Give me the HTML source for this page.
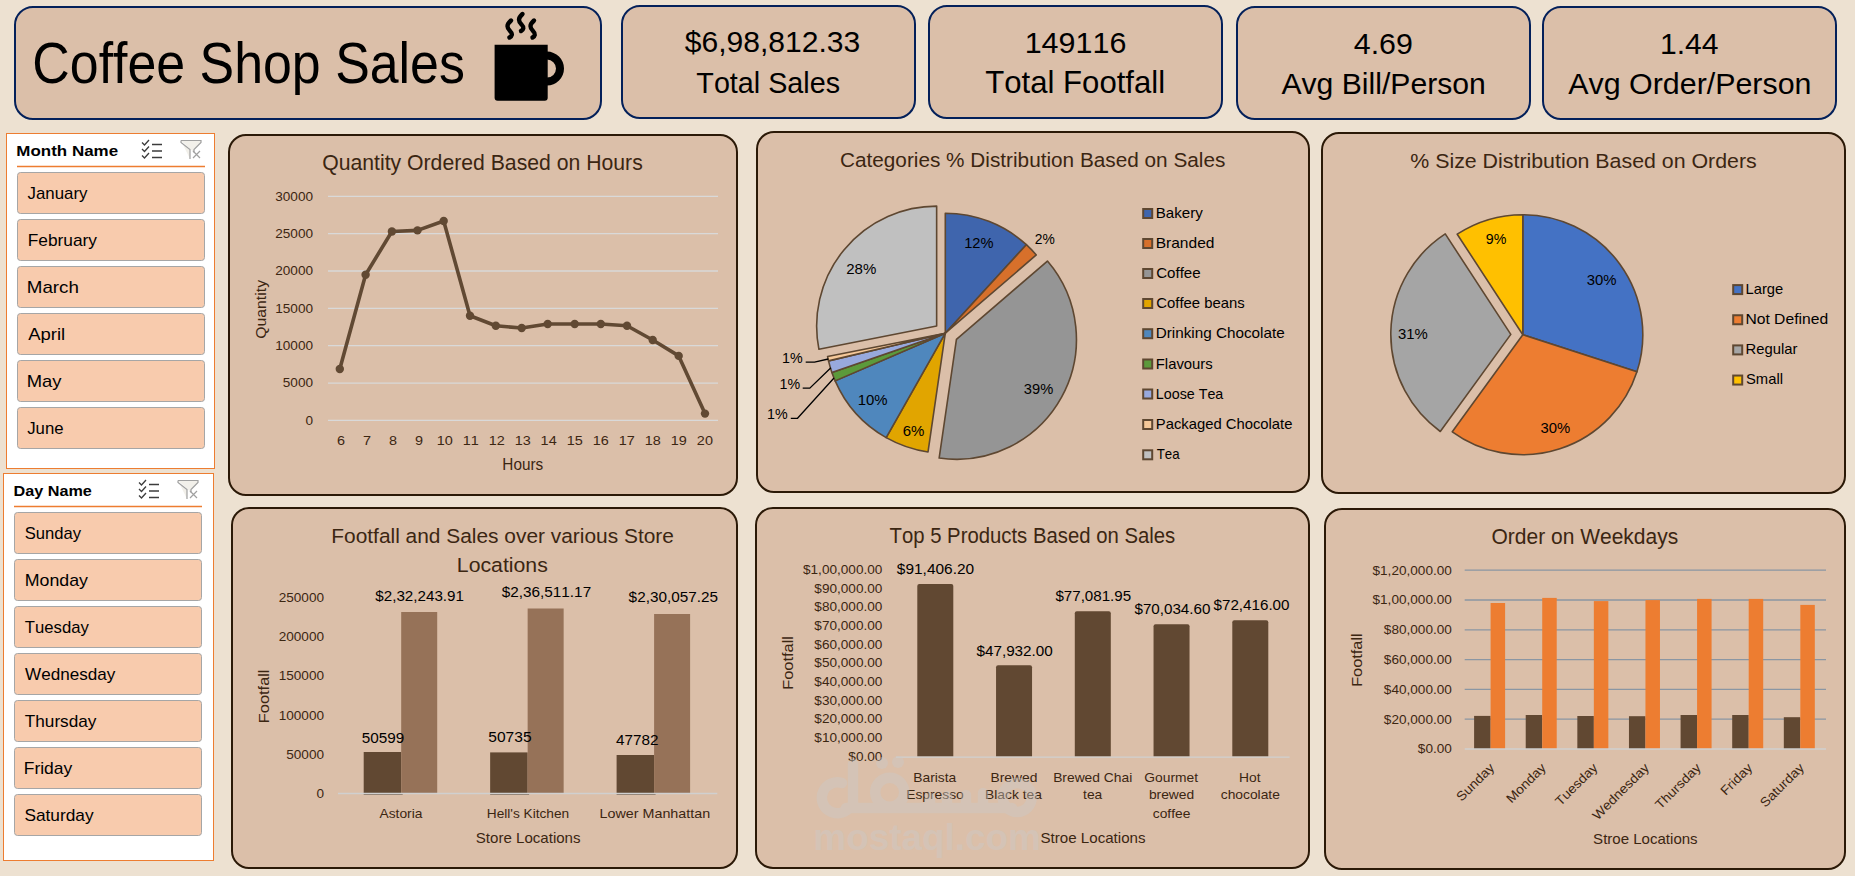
<!DOCTYPE html>
<html><head><meta charset="utf-8"><title>Coffee Shop Sales</title><style>html,body{margin:0;padding:0;background:#EDE1D1;overflow:hidden}</style></head><body>
<svg width="1855" height="876" viewBox="0 0 1855 876" style="display:block;font-family:'Liberation Sans',sans-serif;font-kerning:none">
<rect x="0" y="0" width="1855" height="876" fill="#EDE1D1"/>
<rect x="15.00" y="7.00" width="586.00" height="112.00" rx="18" ry="18" fill="#DBBFA9" stroke="#03205A" stroke-width="2"/>
<rect x="622.00" y="6.00" width="293.00" height="112.00" rx="18" ry="18" fill="#DBBFA9" stroke="#03205A" stroke-width="2"/>
<rect x="929.00" y="6.00" width="293.00" height="112.00" rx="18" ry="18" fill="#DBBFA9" stroke="#03205A" stroke-width="2"/>
<rect x="1237.00" y="7.00" width="293.00" height="112.00" rx="18" ry="18" fill="#DBBFA9" stroke="#03205A" stroke-width="2"/>
<rect x="1543.00" y="7.00" width="293.00" height="112.00" rx="18" ry="18" fill="#DBBFA9" stroke="#03205A" stroke-width="2"/>
<text x="32.37" y="83.00" font-size="57.41" textLength="432.51" lengthAdjust="spacingAndGlyphs" fill="#000">Coffee Shop Sales</text>
<g fill="#000"><path d="M494.6,44.8 H547.7 V97.7 Q547.7,100.7 544.7,100.7 H497.6 Q494.6,100.7 494.6,97.7 Z"/><path d="M547,51.6 A17,17 0 0 1 547,85.6 V77.6 A9,9 0 0 0 547,59.6 Z"/></g>
<g fill="none" stroke="#000" stroke-width="4.4" stroke-linecap="round"><path d="M511,20.5 C506,25 507,28 510,31 C513,34 512,36 509.5,37.5"/><path d="M522.5,14 C517.5,18.5 518.5,21.5 521.5,24.5 C524.5,27.5 523.5,29.5 521,31"/><path d="M534,20.5 C529,25 530,28 533,31 C536,34 535,36 532.5,37.5"/></g>
<text x="684.68" y="52.30" font-size="28.94" textLength="175.65" lengthAdjust="spacingAndGlyphs" fill="#000">$6,98,812.33</text>
<text x="696.35" y="92.80" font-size="30.23" textLength="143.68" lengthAdjust="spacingAndGlyphs" fill="#000">Total Sales</text>
<text x="1024.68" y="52.90" font-size="29.37" textLength="101.66" lengthAdjust="spacingAndGlyphs" fill="#000">149116</text>
<text x="985.30" y="92.80" font-size="30.52" textLength="179.78" lengthAdjust="spacingAndGlyphs" fill="#000">Total Footfall</text>
<text x="1353.80" y="53.80" font-size="29.51" textLength="59.03" lengthAdjust="spacingAndGlyphs" fill="#000">4.69</text>
<text x="1281.44" y="93.50" font-size="29.80" textLength="204.32" lengthAdjust="spacingAndGlyphs" fill="#000">Avg Bill/Person</text>
<text x="1660.01" y="53.60" font-size="29.08" textLength="58.57" lengthAdjust="spacingAndGlyphs" fill="#000">1.44</text>
<text x="1568.34" y="93.60" font-size="29.80" textLength="243.13" lengthAdjust="spacingAndGlyphs" fill="#000">Avg Order/Person</text>
<rect x="6.5" y="133.5" width="208" height="335" fill="#FFFFFF" stroke="#ED7D31" stroke-width="1"/>
<text x="16.37" y="156.00" font-size="15.55" textLength="101.71" lengthAdjust="spacingAndGlyphs" fill="#000" font-weight="bold">Month Name</text>
<line x1="17" y1="166.5" x2="205" y2="166.5" stroke="#ED7D31" stroke-width="1.3"/>
<g fill="none" stroke="#3C3C3C" stroke-width="1.3"><path d="M142,142.5 l2.5,2.5 l4.5,-5"/><path d="M142,149 l2.5,2.5 l4.5,-5"/><path d="M142,155.5 l2.5,2.5 l4.5,-5"/><path d="M152,144.5 h10 M152,151 h10 M152,157.5 h10"/></g>
<g fill="#F2F0EA" stroke="#A0A0A0" stroke-width="1.2"><path d="M181,140.5 h20 v2 l-7,7 v3 M190,159 v-9.5 l-9,-7 v-2"/></g><path d="M193,151 l7,7 M200,151 l-7,7" stroke="#A0A0A0" stroke-width="1.2"/>
<rect x="17.5" y="172.5" width="187" height="41" rx="3" ry="3" fill="#F8CBAD" stroke="#A6A6A6" stroke-width="1"/>
<text x="27.54" y="199.20" font-size="15.99" textLength="59.90" lengthAdjust="spacingAndGlyphs" fill="#000">January</text>
<rect x="17.5" y="219.5" width="187" height="41" rx="3" ry="3" fill="#F8CBAD" stroke="#A6A6A6" stroke-width="1"/>
<text x="27.78" y="246.20" font-size="15.99" textLength="69.25" lengthAdjust="spacingAndGlyphs" fill="#000">February</text>
<rect x="17.5" y="266.5" width="187" height="41" rx="3" ry="3" fill="#F8CBAD" stroke="#A6A6A6" stroke-width="1"/>
<text x="26.76" y="293.20" font-size="15.99" textLength="52.16" lengthAdjust="spacingAndGlyphs" fill="#000">March</text>
<rect x="17.5" y="313.5" width="187" height="41" rx="3" ry="3" fill="#F8CBAD" stroke="#A6A6A6" stroke-width="1"/>
<text x="28.26" y="340.20" font-size="15.99" textLength="36.97" lengthAdjust="spacingAndGlyphs" fill="#000">April</text>
<rect x="17.5" y="360.5" width="187" height="41" rx="3" ry="3" fill="#F8CBAD" stroke="#A6A6A6" stroke-width="1"/>
<text x="26.79" y="387.20" font-size="15.99" textLength="34.74" lengthAdjust="spacingAndGlyphs" fill="#000">May</text>
<rect x="17.5" y="407.5" width="187" height="41" rx="3" ry="3" fill="#F8CBAD" stroke="#A6A6A6" stroke-width="1"/>
<text x="27.24" y="434.20" font-size="15.99" textLength="36.31" lengthAdjust="spacingAndGlyphs" fill="#000">June</text>
<rect x="3.5" y="473.5" width="210" height="387" fill="#FFFFFF" stroke="#ED7D31" stroke-width="1"/>
<text x="13.52" y="496.00" font-size="15.55" textLength="78.34" lengthAdjust="spacingAndGlyphs" fill="#000" font-weight="bold">Day Name</text>
<line x1="14" y1="506.5" x2="202" y2="506.5" stroke="#ED7D31" stroke-width="1.3"/>
<g fill="none" stroke="#3C3C3C" stroke-width="1.3"><path d="M139,482.5 l2.5,2.5 l4.5,-5"/><path d="M139,489 l2.5,2.5 l4.5,-5"/><path d="M139,495.5 l2.5,2.5 l4.5,-5"/><path d="M149,484.5 h10 M149,491 h10 M149,497.5 h10"/></g>
<g fill="#F2F0EA" stroke="#A0A0A0" stroke-width="1.2"><path d="M178,480.5 h20 v2 l-7,7 v3 M187,499 v-9.5 l-9,-7 v-2"/></g><path d="M190,491 l7,7 M197,491 l-7,7" stroke="#A0A0A0" stroke-width="1.2"/>
<rect x="14.5" y="512.5" width="187" height="41" rx="3" ry="3" fill="#F8CBAD" stroke="#A6A6A6" stroke-width="1"/>
<text x="24.75" y="539.20" font-size="15.99" textLength="56.29" lengthAdjust="spacingAndGlyphs" fill="#000">Sunday</text>
<rect x="14.5" y="559.5" width="187" height="41" rx="3" ry="3" fill="#F8CBAD" stroke="#A6A6A6" stroke-width="1"/>
<text x="24.74" y="586.20" font-size="15.99" textLength="63.19" lengthAdjust="spacingAndGlyphs" fill="#000">Monday</text>
<rect x="14.5" y="606.5" width="187" height="41" rx="3" ry="3" fill="#F8CBAD" stroke="#A6A6A6" stroke-width="1"/>
<text x="24.83" y="633.20" font-size="15.99" textLength="64.01" lengthAdjust="spacingAndGlyphs" fill="#000">Tuesday</text>
<rect x="14.5" y="653.5" width="187" height="41" rx="3" ry="3" fill="#F8CBAD" stroke="#A6A6A6" stroke-width="1"/>
<text x="25.12" y="680.20" font-size="15.99" textLength="90.31" lengthAdjust="spacingAndGlyphs" fill="#000">Wednesday</text>
<rect x="14.5" y="700.5" width="187" height="41" rx="3" ry="3" fill="#F8CBAD" stroke="#A6A6A6" stroke-width="1"/>
<text x="24.81" y="727.20" font-size="15.99" textLength="71.62" lengthAdjust="spacingAndGlyphs" fill="#000">Thursday</text>
<rect x="14.5" y="747.5" width="187" height="41" rx="3" ry="3" fill="#F8CBAD" stroke="#A6A6A6" stroke-width="1"/>
<text x="23.77" y="774.20" font-size="15.99" textLength="48.47" lengthAdjust="spacingAndGlyphs" fill="#000">Friday</text>
<rect x="14.5" y="794.5" width="187" height="41" rx="3" ry="3" fill="#F8CBAD" stroke="#A6A6A6" stroke-width="1"/>
<text x="24.42" y="821.20" font-size="15.99" textLength="69.12" lengthAdjust="spacingAndGlyphs" fill="#000">Saturday</text>
<rect x="229.00" y="135.00" width="508.00" height="360.00" rx="17" ry="17" fill="#DBBFA9" stroke="#2B1907" stroke-width="2"/>
<rect x="757.00" y="132.00" width="552.00" height="360.00" rx="17" ry="17" fill="#DBBFA9" stroke="#2B1907" stroke-width="2"/>
<rect x="1322.00" y="133.00" width="523.00" height="360.00" rx="17" ry="17" fill="#DBBFA9" stroke="#2B1907" stroke-width="2"/>
<rect x="232.00" y="508.00" width="505.00" height="360.00" rx="17" ry="17" fill="#DBBFA9" stroke="#2B1907" stroke-width="2"/>
<rect x="756.00" y="508.00" width="553.00" height="360.00" rx="17" ry="17" fill="#DBBFA9" stroke="#2B1907" stroke-width="2"/>
<rect x="1325.00" y="509.00" width="520.00" height="360.00" rx="17" ry="17" fill="#DBBFA9" stroke="#2B1907" stroke-width="2"/>
<text x="322.20" y="170.20" font-size="21.80" textLength="320.57" lengthAdjust="spacingAndGlyphs" fill="#3B2612">Quantity Ordered Based on Hours</text>
<line x1="328" y1="196.30" x2="718" y2="196.30" stroke="#D9D9D9" stroke-width="1.3"/>
<line x1="328" y1="233.65" x2="718" y2="233.65" stroke="#D9D9D9" stroke-width="1.3"/>
<line x1="328" y1="271.00" x2="718" y2="271.00" stroke="#D9D9D9" stroke-width="1.3"/>
<line x1="328" y1="308.35" x2="718" y2="308.35" stroke="#D9D9D9" stroke-width="1.3"/>
<line x1="328" y1="345.70" x2="718" y2="345.70" stroke="#D9D9D9" stroke-width="1.3"/>
<line x1="328" y1="383.05" x2="718" y2="383.05" stroke="#D9D9D9" stroke-width="1.3"/>
<line x1="328" y1="420.40" x2="718" y2="420.40" stroke="#D9D9D9" stroke-width="1.3"/>
<text x="275.25" y="200.60" font-size="12.46" textLength="37.78" lengthAdjust="spacingAndGlyphs" fill="#3B2612">30000</text>
<text x="275.25" y="237.95" font-size="12.46" textLength="37.78" lengthAdjust="spacingAndGlyphs" fill="#3B2612">25000</text>
<text x="275.25" y="275.30" font-size="12.46" textLength="37.78" lengthAdjust="spacingAndGlyphs" fill="#3B2612">20000</text>
<text x="275.25" y="312.65" font-size="12.46" textLength="37.78" lengthAdjust="spacingAndGlyphs" fill="#3B2612">15000</text>
<text x="275.25" y="350.00" font-size="12.46" textLength="37.78" lengthAdjust="spacingAndGlyphs" fill="#3B2612">10000</text>
<text x="282.81" y="387.35" font-size="12.46" textLength="30.22" lengthAdjust="spacingAndGlyphs" fill="#3B2612">5000</text>
<text x="305.47" y="424.70" font-size="12.46" textLength="7.56" lengthAdjust="spacingAndGlyphs" fill="#3B2612">0</text>
<polyline points="339.8,369 365.6,274.7 391.9,231.5 417.5,230.4 443.7,221 470,315.8 495.8,325.8 521.7,328 547.7,324 574.7,324 600.8,324 627,325.7 652.7,340 678.7,355.9 705,413.6" fill="none" stroke="#614933" stroke-width="3.6" stroke-linejoin="round"/>
<circle cx="339.8" cy="369" r="4.2" fill="#614933"/>
<circle cx="365.6" cy="274.7" r="4.2" fill="#614933"/>
<circle cx="391.9" cy="231.5" r="4.2" fill="#614933"/>
<circle cx="417.5" cy="230.4" r="4.2" fill="#614933"/>
<circle cx="443.7" cy="221" r="4.2" fill="#614933"/>
<circle cx="470" cy="315.8" r="4.2" fill="#614933"/>
<circle cx="495.8" cy="325.8" r="4.2" fill="#614933"/>
<circle cx="521.7" cy="328" r="4.2" fill="#614933"/>
<circle cx="547.7" cy="324" r="4.2" fill="#614933"/>
<circle cx="574.7" cy="324" r="4.2" fill="#614933"/>
<circle cx="600.8" cy="324" r="4.2" fill="#614933"/>
<circle cx="627" cy="325.7" r="4.2" fill="#614933"/>
<circle cx="652.7" cy="340" r="4.2" fill="#614933"/>
<circle cx="678.7" cy="355.9" r="4.2" fill="#614933"/>
<circle cx="705" cy="413.6" r="4.2" fill="#614933"/>
<text x="336.93" y="445.10" font-size="12.89" textLength="8.03" lengthAdjust="spacingAndGlyphs" fill="#3B2612">6</text>
<text x="362.98" y="445.10" font-size="12.89" textLength="8.03" lengthAdjust="spacingAndGlyphs" fill="#3B2612">7</text>
<text x="388.98" y="445.10" font-size="12.89" textLength="8.03" lengthAdjust="spacingAndGlyphs" fill="#3B2612">8</text>
<text x="414.99" y="445.10" font-size="12.89" textLength="8.03" lengthAdjust="spacingAndGlyphs" fill="#3B2612">9</text>
<text x="436.70" y="445.10" font-size="12.89" textLength="16.06" lengthAdjust="spacingAndGlyphs" fill="#3B2612">10</text>
<text x="462.77" y="445.10" font-size="12.89" textLength="16.06" lengthAdjust="spacingAndGlyphs" fill="#3B2612">11</text>
<text x="488.78" y="445.10" font-size="12.89" textLength="16.06" lengthAdjust="spacingAndGlyphs" fill="#3B2612">12</text>
<text x="514.74" y="445.10" font-size="12.89" textLength="16.06" lengthAdjust="spacingAndGlyphs" fill="#3B2612">13</text>
<text x="540.63" y="445.10" font-size="12.89" textLength="16.06" lengthAdjust="spacingAndGlyphs" fill="#3B2612">14</text>
<text x="566.72" y="445.10" font-size="12.89" textLength="16.06" lengthAdjust="spacingAndGlyphs" fill="#3B2612">15</text>
<text x="592.74" y="445.10" font-size="12.89" textLength="16.06" lengthAdjust="spacingAndGlyphs" fill="#3B2612">16</text>
<text x="618.78" y="445.10" font-size="12.89" textLength="16.06" lengthAdjust="spacingAndGlyphs" fill="#3B2612">17</text>
<text x="644.73" y="445.10" font-size="12.89" textLength="16.06" lengthAdjust="spacingAndGlyphs" fill="#3B2612">18</text>
<text x="670.76" y="445.10" font-size="12.89" textLength="16.06" lengthAdjust="spacingAndGlyphs" fill="#3B2612">19</text>
<text x="696.89" y="445.10" font-size="12.89" textLength="16.06" lengthAdjust="spacingAndGlyphs" fill="#3B2612">20</text>
<text x="502.34" y="469.90" font-size="15.99" textLength="40.91" lengthAdjust="spacingAndGlyphs" fill="#3B2612">Hours</text>
<g transform="translate(261.00,309.00) rotate(-90)"><text x="-29.75" y="5.25" font-size="15.26" textLength="58.78" lengthAdjust="spacingAndGlyphs" fill="#3B2612">Quantity</text></g>
<text x="839.95" y="166.50" font-size="21.08" textLength="385.40" lengthAdjust="spacingAndGlyphs" fill="#3B2612">Categories % Distribution Based on Sales</text>
<path d="M945.30,333.20 L945.30,213.20 A120,120 0 0 1 1026.34,244.70 Z" fill="#3F65AD" stroke="#5E4731" stroke-width="1.6" stroke-linejoin="round"/>
<path d="M945.30,333.20 L1026.34,244.70 A120,120 0 0 1 1036.30,254.98 Z" fill="#D7702B" stroke="#5E4731" stroke-width="1.6" stroke-linejoin="round"/>
<path d="M956.43,339.32 L1047.43,261.10 A120,120 0 0 1 939.15,458.07 Z" fill="#959595" stroke="#5E4731" stroke-width="1.6" stroke-linejoin="round"/>
<path d="M945.30,333.20 L928.02,451.95 A120,120 0 0 1 886.17,437.62 Z" fill="#E1A500" stroke="#5E4731" stroke-width="1.6" stroke-linejoin="round"/>
<path d="M945.30,333.20 L886.17,437.62 A120,120 0 0 1 835.17,380.86 Z" fill="#4F87BD" stroke="#5E4731" stroke-width="1.6" stroke-linejoin="round"/>
<path d="M945.30,333.20 L835.17,380.86 A120,120 0 0 1 831.89,372.43 Z" fill="#5C9A3B" stroke="#5E4731" stroke-width="1.6" stroke-linejoin="round"/>
<path d="M945.30,333.20 L831.89,372.43 A120,120 0 0 1 828.53,360.85 Z" fill="#98A9DD" stroke="#5E4731" stroke-width="1.6" stroke-linejoin="round"/>
<path d="M945.30,333.20 L828.53,360.85 A120,120 0 0 1 827.57,356.43 Z" fill="#F5C899" stroke="#5E4731" stroke-width="1.6" stroke-linejoin="round"/>
<path d="M936.65,326.09 L818.92,349.31 A120,120 0 0 1 936.65,206.09 Z" fill="#C0C0C0" stroke="#5E4731" stroke-width="1.6" stroke-linejoin="round"/>
<text x="964.18" y="247.80" font-size="15.41" textLength="29.34" lengthAdjust="spacingAndGlyphs" fill="#000000">12%</text>
<text x="1034.70" y="244.30" font-size="15.41" textLength="19.99" lengthAdjust="spacingAndGlyphs" fill="#000000">2%</text>
<text x="846.24" y="273.50" font-size="15.41" textLength="30.09" lengthAdjust="spacingAndGlyphs" fill="#000000">28%</text>
<text x="1023.84" y="394.40" font-size="15.41" textLength="29.38" lengthAdjust="spacingAndGlyphs" fill="#000000">39%</text>
<text x="857.76" y="404.50" font-size="15.41" textLength="29.87" lengthAdjust="spacingAndGlyphs" fill="#000000">10%</text>
<text x="902.74" y="436.20" font-size="15.41" textLength="21.70" lengthAdjust="spacingAndGlyphs" fill="#000000">6%</text>
<text x="782.01" y="362.60" font-size="14.97" textLength="20.59" lengthAdjust="spacingAndGlyphs" fill="#000000">1%</text>
<text x="779.51" y="388.50" font-size="14.97" textLength="20.59" lengthAdjust="spacingAndGlyphs" fill="#000000">1%</text>
<text x="767.11" y="418.60" font-size="14.97" textLength="20.59" lengthAdjust="spacingAndGlyphs" fill="#000000">1%</text>
<g fill="none" stroke="#000" stroke-width="1.3"><polyline points="805.7,362.1 814.5,362.1 828.3,359"/><polyline points="802.7,388.1 809.8,388.1 830.9,367.7"/><polyline points="790.8,418.3 797.5,418.3 834,378"/></g>
<rect x="1143.2" y="209.00" width="9" height="9" fill="#3F65AD" stroke="#5E4731" stroke-width="2"/>
<text x="1155.76" y="218.00" font-size="15.12" textLength="46.97" lengthAdjust="spacingAndGlyphs" fill="#000">Bakery</text>
<rect x="1143.2" y="239.00" width="9" height="9" fill="#D7702B" stroke="#5E4731" stroke-width="2"/>
<text x="1155.73" y="248.00" font-size="15.12" textLength="58.67" lengthAdjust="spacingAndGlyphs" fill="#000">Branded</text>
<rect x="1143.2" y="269.00" width="9" height="9" fill="#959595" stroke="#5E4731" stroke-width="2"/>
<text x="1156.23" y="278.00" font-size="15.12" textLength="44.44" lengthAdjust="spacingAndGlyphs" fill="#000">Coffee</text>
<rect x="1143.2" y="299.00" width="9" height="9" fill="#E1A500" stroke="#5E4731" stroke-width="2"/>
<text x="1156.24" y="308.00" font-size="15.12" textLength="88.49" lengthAdjust="spacingAndGlyphs" fill="#000">Coffee beans</text>
<rect x="1143.2" y="329.20" width="9" height="9" fill="#4F87BD" stroke="#5E4731" stroke-width="2"/>
<text x="1155.75" y="338.20" font-size="15.12" textLength="128.93" lengthAdjust="spacingAndGlyphs" fill="#000">Drinking Chocolate</text>
<rect x="1143.2" y="359.50" width="9" height="9" fill="#5C9A3B" stroke="#5E4731" stroke-width="2"/>
<text x="1155.78" y="368.50" font-size="15.12" textLength="56.96" lengthAdjust="spacingAndGlyphs" fill="#000">Flavours</text>
<rect x="1143.2" y="389.50" width="9" height="9" fill="#98A9DD" stroke="#5E4731" stroke-width="2"/>
<text x="1155.83" y="398.50" font-size="15.12" textLength="67.47" lengthAdjust="spacingAndGlyphs" fill="#000">Loose Tea</text>
<rect x="1143.2" y="420.00" width="9" height="9" fill="#F5C899" stroke="#5E4731" stroke-width="2"/>
<text x="1155.79" y="429.00" font-size="15.12" textLength="136.67" lengthAdjust="spacingAndGlyphs" fill="#000">Packaged Chocolate</text>
<rect x="1143.2" y="450.30" width="9" height="9" fill="#C0C0C0" stroke="#5E4731" stroke-width="2"/>
<text x="1156.70" y="459.30" font-size="15.12" textLength="22.90" lengthAdjust="spacingAndGlyphs" fill="#000">Tea</text>
<text x="1410.24" y="167.50" font-size="21.08" textLength="346.53" lengthAdjust="spacingAndGlyphs" fill="#3B2612">% Size Distribution Based on Orders</text>
<path d="M1522.80,334.70 L1522.80,214.70 A120,120 0 0 1 1636.93,371.78 Z" fill="#4472C4" stroke="#5E4731" stroke-width="1.6" stroke-linejoin="round"/>
<path d="M1522.80,334.70 L1636.93,371.78 A120,120 0 0 1 1452.27,431.78 Z" fill="#ED7D31" stroke="#5E4731" stroke-width="1.6" stroke-linejoin="round"/>
<path d="M1510.80,334.40 L1440.27,431.48 A120,120 0 0 1 1445.24,233.90 Z" fill="#A5A5A5" stroke="#5E4731" stroke-width="1.6" stroke-linejoin="round"/>
<path d="M1522.80,334.70 L1457.23,234.20 A120,120 0 0 1 1522.80,214.70 Z" fill="#FFC000" stroke="#5E4731" stroke-width="1.6" stroke-linejoin="round"/>
<text x="1485.73" y="244.10" font-size="15.41" textLength="20.57" lengthAdjust="spacingAndGlyphs" fill="#000000">9%</text>
<text x="1586.63" y="285.40" font-size="15.41" textLength="29.80" lengthAdjust="spacingAndGlyphs" fill="#000000">30%</text>
<text x="1397.93" y="339.40" font-size="15.41" textLength="29.80" lengthAdjust="spacingAndGlyphs" fill="#000000">31%</text>
<text x="1540.43" y="433.40" font-size="15.41" textLength="29.69" lengthAdjust="spacingAndGlyphs" fill="#000000">30%</text>
<rect x="1733.2" y="285.10" width="9" height="9" fill="#4472C4" stroke="#5E4731" stroke-width="2"/>
<text x="1745.49" y="293.90" font-size="14.97" textLength="37.77" lengthAdjust="spacingAndGlyphs" fill="#000">Large</text>
<rect x="1733.2" y="315.25" width="9" height="9" fill="#ED7D31" stroke="#5E4731" stroke-width="2"/>
<text x="1745.42" y="324.05" font-size="14.97" textLength="82.69" lengthAdjust="spacingAndGlyphs" fill="#000">Not Defined</text>
<rect x="1733.2" y="345.40" width="9" height="9" fill="#A5A5A5" stroke="#5E4731" stroke-width="2"/>
<text x="1745.49" y="354.20" font-size="14.97" textLength="51.86" lengthAdjust="spacingAndGlyphs" fill="#000">Regular</text>
<rect x="1733.2" y="375.55" width="9" height="9" fill="#FFC000" stroke="#5E4731" stroke-width="2"/>
<text x="1746.03" y="384.35" font-size="14.97" textLength="36.96" lengthAdjust="spacingAndGlyphs" fill="#000">Small</text>
<text x="331.29" y="542.50" font-size="21.08" textLength="342.64" lengthAdjust="spacingAndGlyphs" fill="#3B2612">Footfall and Sales over various Store</text>
<text x="456.86" y="571.80" font-size="21.08" textLength="90.91" lengthAdjust="spacingAndGlyphs" fill="#3B2612">Locations</text>
<text x="278.70" y="602.20" font-size="12.46" textLength="45.34" lengthAdjust="spacingAndGlyphs" fill="#3B2612">250000</text>
<text x="278.70" y="641.32" font-size="12.46" textLength="45.34" lengthAdjust="spacingAndGlyphs" fill="#3B2612">200000</text>
<text x="278.70" y="680.44" font-size="12.46" textLength="45.34" lengthAdjust="spacingAndGlyphs" fill="#3B2612">150000</text>
<text x="278.70" y="719.56" font-size="12.46" textLength="45.34" lengthAdjust="spacingAndGlyphs" fill="#3B2612">100000</text>
<text x="286.25" y="758.68" font-size="12.46" textLength="37.78" lengthAdjust="spacingAndGlyphs" fill="#3B2612">50000</text>
<text x="316.47" y="797.80" font-size="12.46" textLength="7.56" lengthAdjust="spacingAndGlyphs" fill="#3B2612">0</text>
<rect x="363.70" y="752.00" width="37.5" height="41.50" fill="#614832"/>
<rect x="401.20" y="612.00" width="36" height="181.50" fill="#967258"/>
<line x1="363.70" y1="794.3" x2="402.70" y2="794.3" stroke="#6B5A4A" stroke-width="1"/>
<text x="361.79" y="742.80" font-size="14.76" textLength="42.54" lengthAdjust="spacingAndGlyphs" fill="#000000">50599</text>
<text x="375.34" y="600.50" font-size="15.19" textLength="88.60" lengthAdjust="spacingAndGlyphs" fill="#000000">$2,32,243.91</text>
<text x="379.47" y="818.40" font-size="12.79" textLength="42.93" lengthAdjust="spacingAndGlyphs" fill="#3B2612">Astoria</text>
<rect x="490.15" y="752.40" width="37.5" height="41.10" fill="#614832"/>
<rect x="527.65" y="608.50" width="36" height="185.00" fill="#967258"/>
<line x1="490.15" y1="794.3" x2="529.15" y2="794.3" stroke="#6B5A4A" stroke-width="1"/>
<text x="488.28" y="742.00" font-size="14.76" textLength="43.28" lengthAdjust="spacingAndGlyphs" fill="#000000">50735</text>
<text x="501.74" y="597.10" font-size="15.19" textLength="89.43" lengthAdjust="spacingAndGlyphs" fill="#000000">$2,36,511.17</text>
<text x="486.78" y="818.40" font-size="12.79" textLength="82.41" lengthAdjust="spacingAndGlyphs" fill="#3B2612">Hell&#39;s Kitchen</text>
<rect x="616.60" y="755.00" width="37.5" height="38.50" fill="#614832"/>
<rect x="654.10" y="614.00" width="36" height="179.50" fill="#967258"/>
<line x1="616.60" y1="794.3" x2="655.60" y2="794.3" stroke="#6B5A4A" stroke-width="1"/>
<text x="616.05" y="744.90" font-size="14.76" textLength="42.52" lengthAdjust="spacingAndGlyphs" fill="#000000">47782</text>
<text x="628.64" y="602.00" font-size="15.19" textLength="89.31" lengthAdjust="spacingAndGlyphs" fill="#000000">$2,30,057.25</text>
<text x="599.63" y="818.40" font-size="12.79" textLength="110.50" lengthAdjust="spacingAndGlyphs" fill="#3B2612">Lower Manhattan</text>
<line x1="338" y1="793.5" x2="717.3" y2="793.5" stroke="#D0D0D0" stroke-width="1.3"/>
<text x="475.82" y="842.80" font-size="15.41" textLength="104.73" lengthAdjust="spacingAndGlyphs" fill="#3B2612">Store Locations</text>
<g transform="translate(263.80,696.20) rotate(-90)"><text x="-26.94" y="5.15" font-size="14.97" textLength="53.64" lengthAdjust="spacingAndGlyphs" fill="#3B2612">Footfall</text></g>
<text x="889.54" y="542.80" font-size="21.51" textLength="285.69" lengthAdjust="spacingAndGlyphs" fill="#3B2612">Top 5 Products Based on Sales</text>
<text x="803.00" y="573.80" font-size="12.46" textLength="79.33" lengthAdjust="spacingAndGlyphs" fill="#3B2612">$1,00,000.00</text>
<text x="814.33" y="592.51" font-size="12.46" textLength="68.00" lengthAdjust="spacingAndGlyphs" fill="#3B2612">$90,000.00</text>
<text x="814.33" y="611.22" font-size="12.46" textLength="68.00" lengthAdjust="spacingAndGlyphs" fill="#3B2612">$80,000.00</text>
<text x="814.33" y="629.93" font-size="12.46" textLength="68.00" lengthAdjust="spacingAndGlyphs" fill="#3B2612">$70,000.00</text>
<text x="814.33" y="648.64" font-size="12.46" textLength="68.00" lengthAdjust="spacingAndGlyphs" fill="#3B2612">$60,000.00</text>
<text x="814.33" y="667.35" font-size="12.46" textLength="68.00" lengthAdjust="spacingAndGlyphs" fill="#3B2612">$50,000.00</text>
<text x="814.33" y="686.06" font-size="12.46" textLength="68.00" lengthAdjust="spacingAndGlyphs" fill="#3B2612">$40,000.00</text>
<text x="814.33" y="704.77" font-size="12.46" textLength="68.00" lengthAdjust="spacingAndGlyphs" fill="#3B2612">$30,000.00</text>
<text x="814.33" y="723.48" font-size="12.46" textLength="68.00" lengthAdjust="spacingAndGlyphs" fill="#3B2612">$20,000.00</text>
<text x="814.33" y="742.19" font-size="12.46" textLength="68.00" lengthAdjust="spacingAndGlyphs" fill="#3B2612">$10,000.00</text>
<text x="848.33" y="760.90" font-size="12.46" textLength="34.00" lengthAdjust="spacingAndGlyphs" fill="#3B2612">$0.00</text>
<path d="M917.30,756.6 V586.10 Q917.30,584.10 919.30,584.10 H951.30 Q953.30,584.10 953.30,586.10 V756.6 Z" fill="#614832"/>
<text x="896.83" y="574.10" font-size="15.19" textLength="77.27" lengthAdjust="spacingAndGlyphs" fill="#000000">$91,406.20</text>
<text x="913.24" y="781.60" font-size="12.79" textLength="42.99" lengthAdjust="spacingAndGlyphs" fill="#3B2612">Barista</text>
<text x="906.23" y="799.40" font-size="12.79" textLength="57.58" lengthAdjust="spacingAndGlyphs" fill="#3B2612">Espresso</text>
<path d="M996.05,756.6 V667.20 Q996.05,665.20 998.05,665.20 H1030.05 Q1032.05,665.20 1032.05,667.20 V756.6 Z" fill="#614832"/>
<text x="976.44" y="656.40" font-size="15.19" textLength="76.36" lengthAdjust="spacingAndGlyphs" fill="#000000">$47,932.00</text>
<text x="990.51" y="781.60" font-size="12.79" textLength="46.84" lengthAdjust="spacingAndGlyphs" fill="#3B2612">Brewed</text>
<text x="985.07" y="799.40" font-size="12.79" textLength="56.82" lengthAdjust="spacingAndGlyphs" fill="#3B2612">Black tea</text>
<path d="M1074.80,756.6 V613.20 Q1074.80,611.20 1076.80,611.20 H1108.80 Q1110.80,611.20 1110.80,613.20 V756.6 Z" fill="#614832"/>
<text x="1055.44" y="601.20" font-size="15.19" textLength="75.70" lengthAdjust="spacingAndGlyphs" fill="#000000">$77,081.95</text>
<text x="1053.16" y="781.60" font-size="12.79" textLength="79.09" lengthAdjust="spacingAndGlyphs" fill="#3B2612">Brewed Chai</text>
<text x="1083.09" y="799.40" font-size="12.79" textLength="19.20" lengthAdjust="spacingAndGlyphs" fill="#3B2612">tea</text>
<path d="M1153.55,756.6 V626.20 Q1153.55,624.20 1155.55,624.20 H1187.55 Q1189.55,624.20 1189.55,626.20 V756.6 Z" fill="#614832"/>
<text x="1134.44" y="613.90" font-size="15.19" textLength="75.96" lengthAdjust="spacingAndGlyphs" fill="#000000">$70,034.60</text>
<text x="1144.38" y="781.60" font-size="12.79" textLength="53.74" lengthAdjust="spacingAndGlyphs" fill="#3B2612">Gourmet</text>
<text x="1148.90" y="799.40" font-size="12.79" textLength="45.31" lengthAdjust="spacingAndGlyphs" fill="#3B2612">brewed</text>
<text x="1152.75" y="817.60" font-size="12.79" textLength="37.63" lengthAdjust="spacingAndGlyphs" fill="#3B2612">coffee</text>
<path d="M1232.30,756.6 V622.20 Q1232.30,620.20 1234.30,620.20 H1266.30 Q1268.30,620.20 1268.30,622.20 V756.6 Z" fill="#614832"/>
<text x="1213.54" y="610.00" font-size="15.19" textLength="75.96" lengthAdjust="spacingAndGlyphs" fill="#000000">$72,416.00</text>
<text x="1239.04" y="781.60" font-size="12.79" textLength="21.50" lengthAdjust="spacingAndGlyphs" fill="#3B2612">Hot</text>
<text x="1220.75" y="799.40" font-size="12.79" textLength="59.13" lengthAdjust="spacingAndGlyphs" fill="#3B2612">chocolate</text>
<line x1="896" y1="757.1" x2="1289.6" y2="757.1" stroke="#D0D0D0" stroke-width="1.3"/>
<text x="1040.51" y="843.20" font-size="15.41" textLength="105.03" lengthAdjust="spacingAndGlyphs" fill="#3B2612">Stroe Locations</text>
<g transform="translate(788.00,662.80) rotate(-90)"><text x="-26.99" y="5.15" font-size="14.97" textLength="53.74" lengthAdjust="spacingAndGlyphs" fill="#3B2612">Footfall</text></g>
<text x="1491.51" y="543.90" font-size="21.51" textLength="186.65" lengthAdjust="spacingAndGlyphs" fill="#3B2612">Order on Weekdays</text>
<line x1="1464.7" y1="570.20" x2="1826" y2="570.20" stroke="#8A96A3" stroke-width="1.3"/>
<text x="1372.50" y="574.50" font-size="12.46" textLength="79.33" lengthAdjust="spacingAndGlyphs" fill="#3B2612">$1,20,000.00</text>
<line x1="1464.7" y1="600.00" x2="1826" y2="600.00" stroke="#8A96A3" stroke-width="1.3"/>
<text x="1372.50" y="604.30" font-size="12.46" textLength="79.33" lengthAdjust="spacingAndGlyphs" fill="#3B2612">$1,00,000.00</text>
<line x1="1464.7" y1="629.80" x2="1826" y2="629.80" stroke="#8A96A3" stroke-width="1.3"/>
<text x="1383.83" y="634.10" font-size="12.46" textLength="68.00" lengthAdjust="spacingAndGlyphs" fill="#3B2612">$80,000.00</text>
<line x1="1464.7" y1="659.60" x2="1826" y2="659.60" stroke="#8A96A3" stroke-width="1.3"/>
<text x="1383.83" y="663.90" font-size="12.46" textLength="68.00" lengthAdjust="spacingAndGlyphs" fill="#3B2612">$60,000.00</text>
<line x1="1464.7" y1="689.40" x2="1826" y2="689.40" stroke="#8A96A3" stroke-width="1.3"/>
<text x="1383.83" y="693.70" font-size="12.46" textLength="68.00" lengthAdjust="spacingAndGlyphs" fill="#3B2612">$40,000.00</text>
<line x1="1464.7" y1="719.20" x2="1826" y2="719.20" stroke="#8A96A3" stroke-width="1.3"/>
<text x="1383.83" y="723.50" font-size="12.46" textLength="68.00" lengthAdjust="spacingAndGlyphs" fill="#3B2612">$20,000.00</text>
<text x="1417.83" y="753.30" font-size="12.46" textLength="34.00" lengthAdjust="spacingAndGlyphs" fill="#3B2612">$0.00</text>
<rect x="1474.10" y="715.90" width="16.5" height="33.10" fill="#614832"/>
<rect x="1490.60" y="603.00" width="14.5" height="146.00" fill="#ED7D31"/>
<rect x="1525.72" y="715.00" width="16.5" height="34.00" fill="#614832"/>
<rect x="1542.22" y="597.90" width="14.5" height="151.10" fill="#ED7D31"/>
<rect x="1577.34" y="716.00" width="16.5" height="33.00" fill="#614832"/>
<rect x="1593.84" y="601.10" width="14.5" height="147.90" fill="#ED7D31"/>
<rect x="1628.96" y="716.20" width="16.5" height="32.80" fill="#614832"/>
<rect x="1645.46" y="600.10" width="14.5" height="148.90" fill="#ED7D31"/>
<rect x="1680.58" y="715.00" width="16.5" height="34.00" fill="#614832"/>
<rect x="1697.08" y="598.90" width="14.5" height="150.10" fill="#ED7D31"/>
<rect x="1732.20" y="715.00" width="16.5" height="34.00" fill="#614832"/>
<rect x="1748.70" y="598.90" width="14.5" height="150.10" fill="#ED7D31"/>
<rect x="1783.82" y="717.20" width="16.5" height="31.80" fill="#614832"/>
<rect x="1800.32" y="604.90" width="14.5" height="144.10" fill="#ED7D31"/>
<line x1="1464.7" y1="749.0" x2="1826" y2="749.0" stroke="#D0D0D0" stroke-width="1.3"/>
<g transform="translate(1495.10,768.50) rotate(-45)"><text x="-47.38" y="0" font-size="12.94" textLength="47.38" lengthAdjust="spacingAndGlyphs" fill="#3B2612">Sunday</text></g>
<g transform="translate(1546.72,768.50) rotate(-45)"><text x="-49.70" y="0" font-size="12.94" textLength="49.70" lengthAdjust="spacingAndGlyphs" fill="#3B2612">Monday</text></g>
<g transform="translate(1598.34,768.50) rotate(-45)"><text x="-53.58" y="0" font-size="12.94" textLength="53.58" lengthAdjust="spacingAndGlyphs" fill="#3B2612">Tuesday</text></g>
<g transform="translate(1649.96,768.50) rotate(-45)"><text x="-73.78" y="0" font-size="12.94" textLength="73.78" lengthAdjust="spacingAndGlyphs" fill="#3B2612">Wednesday</text></g>
<g transform="translate(1701.58,768.50) rotate(-45)"><text x="-58.24" y="0" font-size="12.94" textLength="58.24" lengthAdjust="spacingAndGlyphs" fill="#3B2612">Thursday</text></g>
<g transform="translate(1753.20,768.50) rotate(-45)"><text x="-38.82" y="0" font-size="12.94" textLength="38.82" lengthAdjust="spacingAndGlyphs" fill="#3B2612">Friday</text></g>
<g transform="translate(1804.82,768.50) rotate(-45)"><text x="-55.92" y="0" font-size="12.94" textLength="55.92" lengthAdjust="spacingAndGlyphs" fill="#3B2612">Saturday</text></g>
<text x="1593.12" y="843.80" font-size="15.41" textLength="104.53" lengthAdjust="spacingAndGlyphs" fill="#3B2612">Stroe Locations</text>
<g transform="translate(1357.10,660.00) rotate(-90)"><text x="-26.89" y="5.15" font-size="14.97" textLength="53.53" lengthAdjust="spacingAndGlyphs" fill="#3B2612">Footfall</text></g>
<g opacity="0.42" fill="none" stroke="#CCCAC8" stroke-width="10.5" stroke-linecap="round"><path d="M853,764 V808 M846,808 H1012"/><path d="M842,783 A15.5,15.5 0 1 0 849,808"/><circle cx="889.7" cy="792.2" r="14.5"/><circle cx="1017.2" cy="797.5" r="14.5"/><path d="M930,798 V807 M947,796 V807 M966,795 V807 M983,793 V807"/></g>
<g opacity="0.42" fill="#CCCAC8"><circle cx="882" cy="763" r="6"/><circle cx="898" cy="762" r="6"/></g>
<text x="813.37" y="850.20" font-size="37.12" textLength="227.42" lengthAdjust="spacingAndGlyphs" fill="#CCCAC8" font-weight="bold" opacity="0.42">mostaql.com</text>
</svg>
</body></html>
